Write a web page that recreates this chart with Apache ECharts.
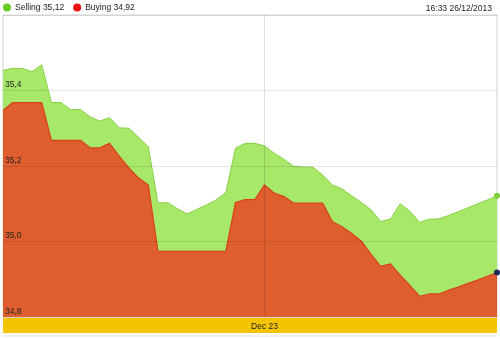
<!DOCTYPE html>
<html>
<head>
<meta charset="utf-8">
<script src="https://cdn.jsdelivr.net/npm/echarts@6/dist/echarts.min.js"></script>
<style>
  html, body { margin: 0; padding: 0; background: #fff; }
  #chart { width: 500px; height: 339px; }
</style>
</head>
<body>
<div id="chart"></div>
<script>
// Selling / buying quotes sampled at regular intervals
const selling = [
  35.453, 35.459, 35.458, 35.450, 35.468, 35.368, 35.368, 35.349, 35.350, 35.330,
  35.319, 35.328, 35.301, 35.300, 35.276, 35.251, 35.102, 35.103, 35.087, 35.073,
  35.085, 35.097, 35.110, 35.129, 35.247, 35.260, 35.260, 35.253, 35.234, 35.218,
  35.199, 35.197, 35.197, 35.176, 35.150, 35.139, 35.121, 35.103, 35.084, 35.053,
  35.059, 35.100, 35.080, 35.051, 35.059, 35.060, 35.069, 35.079, 35.089, 35.100,
  35.110, 35.121
];
const buying = [
  35.347, 35.368, 35.368, 35.368, 35.368, 35.268, 35.268, 35.268, 35.268, 35.248,
  35.248, 35.260, 35.226, 35.195, 35.168, 35.150, 34.974, 34.974, 34.974, 34.974,
  34.974, 34.974, 34.974, 34.974, 35.103, 35.111, 35.111, 35.150, 35.128, 35.119,
  35.102, 35.102, 35.102, 35.102, 35.053, 35.039, 35.021, 35.001, 34.966, 34.934,
  34.941, 34.911, 34.884, 34.855, 34.861, 34.861, 34.871, 34.879, 34.889, 34.898,
  34.908, 34.918
];
const dayLabel = 'Dec 23';
const dayStart = 27;               // first sample of the new day
const categories = selling.map((_, i) => (i === dayStart ? dayLabel : ''));
const yTicks = { min: 34.8, max: 35.6, interval: 0.2 };
const stamp = '16:33 26/12/2013';

const fmt = v => v.toFixed(2).replace('.', ',');
const last = selling.length - 1;
const FONT = '"Liberation Sans", Arial, sans-serif';
const FS = 8.5;
const TXT = '#222';

const chart = echarts.init(document.getElementById('chart'), null, { renderer: 'canvas' });
chart.setOption({
  animation: false,
  grid: { left: 3, right: 3, top: 15, bottom: 22, show: true, borderColor: '#d4d4d4', borderWidth: 1 },
  legend: {
    left: 3, top: 3, padding: 0, itemGap: 9, itemWidth: 8, itemHeight: 8, icon: 'circle',
    textStyle: { fontFamily: FONT, fontSize: FS, color: TXT, padding: [0, 0, 0, -1] },
    data: [
      { name: 'Selling', itemStyle: { color: '#66cc22' } },
      { name: 'Buying', itemStyle: { color: '#ee1111' } }
    ],
    formatter: name => name + ' ' + fmt(name === 'Selling' ? selling[last] : buying[last])
  },
  graphic: [
    { type: 'rect', left: 3, top: 318, shape: { width: 494, height: 15 }, style: { fill: '#f5c400' }, z: 0 },
    { type: 'line', shape: { x1: 3, y1: 336, x2: 497, y2: 336 }, style: { stroke: '#e2e2e2', lineWidth: 1 } },
    { type: 'text', right: 8, top: 4, style: { text: stamp, font: FS + 'px ' + FONT, fill: TXT } }
  ],
  xAxis: {
    type: 'category', data: categories, boundaryGap: false, z: 5,
    axisLine: { show: false }, axisTick: { show: false },
    axisLabel: {
      interval: i => i === dayStart, margin: 5,
      fontFamily: FONT, fontSize: FS, color: TXT
    },
    splitLine: { show: true, interval: i => i === dayStart, lineStyle: { color: 'rgba(0,0,0,0.12)', width: 1 } }
  },
  yAxis: {
    type: 'value', min: yTicks.min, max: yTicks.max, interval: yTicks.interval, z: 5,
    axisLine: { show: false }, axisTick: { show: false },
    axisLabel: {
      inside: true, margin: 2, verticalAlign: 'bottom', showMaxLabel: false,
      fontFamily: FONT, fontSize: FS, color: TXT, padding: [0, 0, 1, 0],
      formatter: v => v.toFixed(1).replace('.', ',')
    },
    splitLine: { show: true, lineStyle: { color: 'rgba(0,0,0,0.1)', width: 1 } }
  },
  series: [
    {
      name: 'Selling', type: 'line', data: selling, z: 2,
      symbol: 'circle', showAllSymbol: true,
      symbolSize: (v, p) => (p.dataIndex === last ? 6 : 0),
      itemStyle: { color: '#7fd03a' },
      lineStyle: { color: '#86d044', width: 1 },
      areaStyle: { color: '#a7e868', opacity: 1, origin: 'start' }
    },
    {
      name: 'Buying', type: 'line', data: buying, z: 3,
      symbol: 'circle', showAllSymbol: true,
      symbolSize: (v, p) => (p.dataIndex === last ? 6 : 0),
      itemStyle: { color: '#1f2a5c' },
      lineStyle: { color: '#d8401c', width: 1.2 },
      areaStyle: { color: '#df5e2d', opacity: 1, origin: 'start' }
    }
  ]
});
</script>
</body>
</html>
